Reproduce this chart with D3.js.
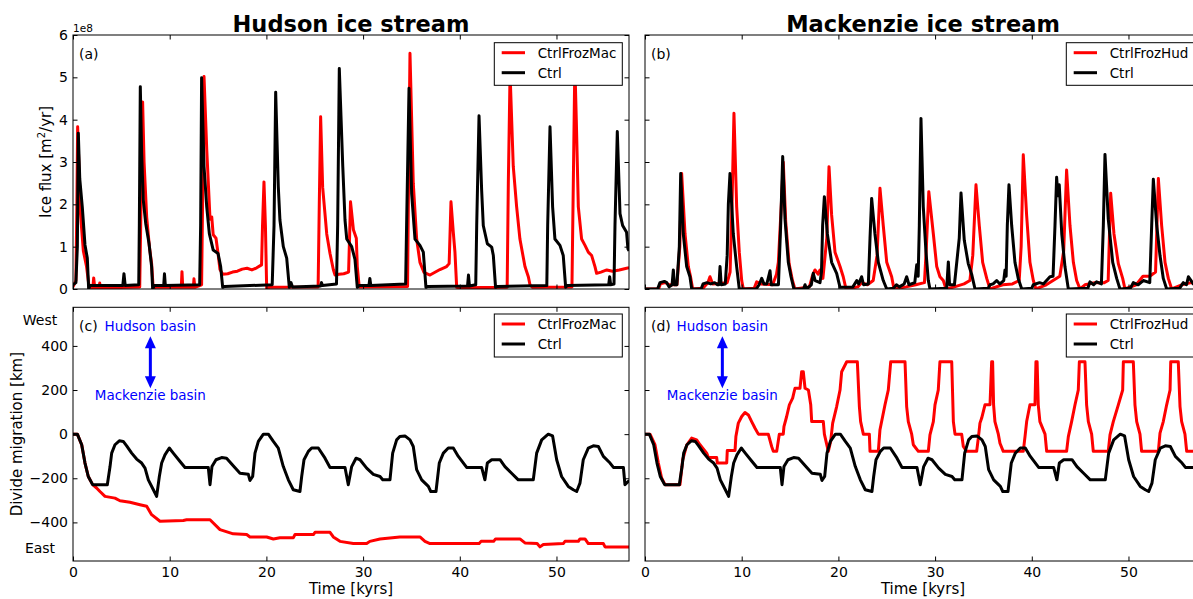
<!DOCTYPE html>
<html>
<head>
<meta charset="utf-8">
<script src="https://cdn.jsdelivr.net/npm/d3@7"></script>
<style>
  body { margin: 0; background: #fff; }
  svg { display: block; }
  text { font-family: "DejaVu Sans", sans-serif; }
</style>
</head>
<body>
<svg id="fig" width="1193" height="599"></svg>
<script>
// ---- tick values ----
const timeTicks = [0, 10, 20, 30, 40, 50];
const fluxTicks = [0, 1, 2, 3, 4, 5, 6];          // ×1e8 m²/yr
const divideTicks = [-400, -200, 0, 200, 400];    // km

// ---- ice flux of the Hudson ice stream, [time kyr, flux ×1e8 m²/yr] ----
const hudsonFluxCtrl = [
  [0,0.1],[0.3,0.15],[0.45,1.0],[0.55,3.68],[0.7,2.6],[0.96,1.94],[1.24,1.04],[1.48,0.73],[1.62,0.0],[1.75,0.08],
  [5.15,0.08],[5.27,0.36],[5.4,0.08],[6.8,0.1],[6.86,1.5],[6.96,4.78],[7.1,3.2],[7.27,2.1],[7.52,1.55],[7.86,1.08],
  [8.13,0.53],[8.24,0.0],[8.4,0.08],[9.38,0.08],[9.46,0.36],[9.55,0.08],[13.1,0.1],[13.2,1.5],[13.3,4.99],[13.55,2.89],
  [13.83,1.94],[14.1,1.31],[14.5,0.92],[15.0,0.84],[15.27,0.53],[15.48,0.04],[15.7,0.06],[20.6,0.1],[20.79,1.5],[20.96,4.65],
  [21.23,2.42],[21.4,1.63],[21.75,1.0],[22.1,0.73],[22.37,0.04],[22.55,0.15],[22.7,0.05],[25.6,0.07],[25.7,0.15],[25.8,0.08],
  [27.25,0.12],[27.37,1.5],[27.54,5.21],[27.9,2.89],[28.13,1.63],[28.31,1.18],[28.82,1.0],[29.16,0.7],[29.4,0.04],[29.6,0.08],
  [30.6,0.08],[30.7,0.25],[30.8,0.08],[34.4,0.12],[34.5,1.5],[34.75,4.74],[35.02,2.26],[35.37,1.18],[35.88,1.03],[36.23,0.87],
  [36.5,0.04],[36.7,0.06],[40.8,0.07],[40.9,0.33],[41.0,0.07],[41.65,0.1],[41.75,1.5],[41.99,4.09],[42.26,2.34],[42.43,1.5],
  [42.85,1.07],[43.3,0.99],[43.47,0.79],[43.7,0.04],[43.9,0.06],[49.0,0.08],[49.09,1.5],[49.33,3.83],[49.6,1.94],[49.84,1.18],
  [50.36,1.03],[50.7,0.79],[50.95,0.04],[51.1,0.08],[55.4,0.1],[55.5,0.29],[55.6,0.1],[55.95,0.12],[56.05,1.5],[56.29,3.72],
  [56.57,1.78],[56.84,1.5],[57.25,1.34],[57.39,0.95],[57.5,0.9]
];
const hudsonFluxFrozMac = [
  [0,0.05],[0.3,0.2],[0.4,2.0],[0.48,3.83],[0.6,3.0],[0.72,1.94],[1.07,0.9],[1.4,0.53],[1.69,0.0],[2.05,0.02],
  [2.14,0.26],[2.25,0.02],[2.7,0.02],[2.76,0.14],[2.85,0.02],[6.9,0.05],[7.0,1.5],[7.2,4.42],[7.35,3.0],[7.62,1.7],
  [7.9,1.0],[8.13,0.6],[8.3,0.0],[8.5,0.04],[11.2,0.04],[11.27,0.41],[11.35,0.04],[12.45,0.04],[12.51,0.24],[12.6,0.04],
  [13.3,0.1],[13.4,2.0],[13.55,5.02],[13.83,3.3],[14.17,1.65],[14.35,1.7],[14.5,1.28],[14.79,1.2],[15.0,0.84],[15.2,0.46],
  [15.48,0.35],[16.0,0.36],[16.5,0.4],[17.0,0.42],[17.5,0.47],[18.0,0.49],[18.5,0.45],[19.0,0.5],[19.5,0.57],[19.6,1.5],
  [19.75,2.53],[19.9,1.5],[20.03,0.0],[20.3,0.04],[25.35,0.05],[25.47,2.0],[25.61,4.07],[25.82,2.4],[26.24,1.3],[26.58,0.84],
  [26.92,0.46],[27.1,0.33],[27.5,0.35],[28.0,0.36],[28.5,0.4],[28.6,1.2],[28.7,2.06],[29.0,1.4],[29.3,1.2],[29.4,0.53],
  [29.6,0.05],[34.6,0.06],[34.7,2.5],[34.85,5.57],[35.19,2.5],[35.54,1.18],[35.88,0.63],[36.3,0.39],[36.92,0.33],[37.95,0.46],
  [38.64,0.53],[38.9,0.6],[39.09,2.06],[39.33,1.34],[39.5,0.87],[39.68,0.04],[40.0,0.03],[44.9,0.04],[45.02,2.5],[45.2,5.1],
  [45.53,2.9],[45.88,1.94],[46.22,1.18],[46.74,0.53],[47.09,0.29],[47.26,0.1],[47.5,0.04],[51.6,0.05],[51.74,2.5],[51.9,5.3],
  [52.05,4.0],[52.26,1.94],[52.6,1.18],[52.95,1.03],[53.29,0.87],[53.64,0.79],[53.98,0.53],[54.15,0.37],[54.6,0.4],[55.2,0.45],
  [55.8,0.42],[56.5,0.45],[57.25,0.49],[57.5,0.5]
];

// ---- ice flux of the Mackenzie ice stream, [time kyr, flux ×1e8 m²/yr] ----
const mackFluxCtrl = [
  [0,0],[1.3,0.0],[1.55,0.15],[2.0,0.18],[2.25,0.15],[2.5,0.05],[2.8,0.1],[2.93,0.45],[3.05,0.1],[3.3,0.1],
  [3.55,1.0],[3.69,2.73],[3.96,1.3],[4.31,0.53],[4.65,0.29],[4.83,0.0],[5.8,0.0],[6.0,0.12],[6.4,0.15],[6.8,0.12],
  [7.2,0.15],[7.5,0.1],[7.65,0.1],[7.76,0.53],[7.88,0.1],[8.3,0.12],[8.5,0.8],[8.62,2.0],[8.79,2.73],[9.13,1.3],
  [9.48,0.53],[9.75,0.0],[11.5,0.0],[11.8,0.1],[12.07,0.25],[12.3,0.12],[12.6,0.12],[12.93,0.43],[13.05,0.1],[13.8,0.1],
  [14.03,1.5],[14.24,3.13],[14.48,1.65],[14.82,0.63],[15.1,0.29],[15.4,0.0],[16.4,0.0],[16.55,0.1],[16.7,0.0],[17.2,0.1],
  [17.4,0.37],[17.6,0.2],[18.1,0.15],[18.25,0.4],[18.37,1.5],[18.55,2.18],[18.86,1.3],[19.3,0.63],[19.82,0.37],[20.17,0.04],
  [21.5,0.05],[21.9,0.2],[22.1,0.12],[22.4,0.29],[22.6,0.1],[23.1,0.12],[23.27,1.2],[23.44,2.14],[23.78,1.3],[24.13,0.63],
  [24.64,0.2],[25.0,0.0],[25.7,0.02],[26.0,0.1],[26.3,0.05],[26.8,0.12],[27.06,0.29],[27.3,0.1],[27.9,0.15],[28.1,0.57],
  [28.25,0.3],[28.37,1.5],[28.54,4.03],[28.78,1.94],[29.06,0.87],[29.3,0.2],[29.47,0.0],[31.2,0.02],[31.37,0.64],[31.5,0.1],
  [32.0,0.1],[32.5,1.2],[32.68,2.27],[33.02,1.15],[33.43,0.6],[33.78,0.35],[34.13,0.0],[35.5,0.02],[35.68,0.1],[36.0,0.12],
  [36.37,0.2],[36.7,0.12],[37.1,0.2],[37.23,0.45],[37.35,0.3],[37.47,1.5],[37.64,2.46],[37.92,1.5],[38.26,0.63],[38.6,0.25],
  [38.96,0.0],[40.0,0.02],[40.16,0.1],[40.8,0.15],[41.2,0.12],[41.88,0.29],[42.2,0.3],[42.4,1.5],[42.57,2.64],[42.7,2.2],
  [42.84,2.46],[43.1,1.3],[43.43,0.53],[43.78,0.0],[45.8,0.02],[46.02,0.17],[46.4,0.1],[46.7,0.17],[47.2,0.12],[47.4,1.5],
  [47.57,3.18],[47.91,1.65],[48.37,0.63],[48.78,0.25],[49.12,0.0],[50.2,0.02],[50.5,0.15],[51.0,0.1],[51.53,0.2],[52.2,0.15],
  [52.4,1.5],[52.57,2.59],[52.92,1.5],[53.26,0.79],[53.6,0.25],[53.95,0.0],[55.3,0.02],[55.67,0.15],[56.0,0.1],[56.2,0.29],
  [56.7,0.12],[57.5,0.15]
];
const mackFluxFrozHud = [
  [0,0],[1.4,0.0],[1.6,0.12],[2.1,0.15],[2.5,0.1],[3.3,0.1],[3.6,1.0],[3.79,2.73],[4.14,1.3],[4.48,0.53],
  [4.7,0.3],[4.93,0.0],[6.0,0.02],[6.5,0.15],[6.72,0.29],[7.0,0.12],[8.5,0.15],[8.8,0.4],[9.0,2.0],[9.2,4.15],
  [9.48,1.94],[9.75,0.87],[10.0,0.2],[10.17,0.0],[11.3,0.02],[11.55,0.17],[12.0,0.12],[13.2,0.1],[13.6,0.35],[13.79,0.63],
  [14.1,2.0],[14.3,3.0],[14.55,1.6],[14.9,0.6],[15.25,0.2],[15.5,0.0],[17.0,0.05],[17.3,0.3],[17.58,0.45],[17.9,0.35],
  [18.1,0.45],[18.4,0.25],[18.8,1.2],[19.03,2.89],[19.3,1.75],[19.65,0.87],[20.17,0.53],[20.5,0.29],[20.79,0.0],[22.0,0.05],
  [22.4,0.15],[23.0,0.1],[23.6,0.2],[24.0,0.8],[24.3,2.38],[24.64,1.5],[25.0,0.63],[25.51,0.29],[25.75,0.0],[27.0,0.05],
  [28.0,0.1],[28.9,0.15],[29.1,1.0],[29.35,2.3],[29.82,1.3],[30.17,0.53],[30.5,0.29],[30.85,0.2],[31.13,0.0],[32.0,0.05],
  [33.0,0.12],[33.6,0.2],[33.9,0.8],[34.23,2.46],[34.57,1.5],[34.92,0.63],[35.34,0.25],[35.68,0.0],[37.0,0.1],[38.0,0.12],
  [38.7,0.2],[38.9,1.0],[39.12,3.17],[39.47,1.73],[39.81,0.63],[40.16,0.2],[40.43,0.0],[41.5,0.1],[42.9,0.3],[43.3,0.9],
  [43.6,2.81],[43.95,1.5],[44.3,0.63],[44.64,0.2],[44.99,0.0],[45.5,0.1],[46.5,0.15],[47.5,0.15],[47.9,0.2],[48.16,2.26],
  [48.5,1.3],[48.95,0.6],[49.4,0.25],[49.64,0.0],[50.8,0.1],[51.5,0.3],[52.2,0.3],[52.8,0.4],[53.09,2.61],[53.43,1.5],
  [53.78,0.63],[54.12,0.25],[54.47,0.0],[55.5,0.1],[56.5,0.15],[57.5,0.12]
];

// ---- ice divide position, [time kyr, km] (positive = west) ----
const divideCtrl = [
  [0,0],[0.45,0],[0.9,-48],[1.24,-131],[1.58,-192],[2.03,-229],[3.55,-229],[3.83,-147],[4.0,-86],[4.34,-48],
  [4.79,-30],[5.2,-33],[5.55,-53],[6.07,-86],[6.58,-113],[7.1,-131],[7.45,-154],[7.79,-207],[8.31,-252],[8.65,-282],
  [8.93,-192],[9.17,-131],[9.51,-94],[9.96,-63],[10.37,-86],[11.07,-124],[11.58,-151],[13.99,-151],[14.17,-229],[14.37,-147],
  [14.79,-116],[15.37,-106],[15.88,-109],[16.57,-143],[17.27,-177],[18.13,-182],[18.3,-210],[18.58,-192],[18.82,-86],[19.17,-33],
  [19.69,0],[20.2,0],[20.72,-33],[21.23,-63],[21.75,-147],[22.27,-207],[22.78,-252],[23.47,-260],[23.65,-192],[23.89,-116],
  [24.34,-78],[24.68,-63],[25.37,-63],[26.06,-109],[26.58,-151],[28.13,-151],[28.47,-229],[28.82,-147],[29.27,-109],[29.68,-116],
  [30.37,-154],[31.06,-182],[31.75,-192],[32.03,-207],[32.78,-207],[33.06,-86],[33.47,-26],[33.8,-11],[34.33,-8],[34.85,-26],
  [35.19,-56],[35.54,-161],[36.06,-207],[36.75,-237],[37.0,-260],[37.54,-260],[37.88,-131],[38.3,-86],[38.81,-63],[39.33,-63],
  [39.85,-101],[40.71,-151],[42.26,-151],[42.6,-207],[42.85,-131],[43.3,-116],[44.16,-116],[44.67,-147],[45.36,-177],[46.05,-207],
  [47.6,-207],[47.95,-86],[48.47,-26],[49.15,0],[49.6,-8],[50.02,-116],[50.53,-192],[51.22,-237],[51.74,-252],[52.09,-260],
  [52.43,-222],[52.77,-116],[53.29,-63],[53.81,-53],[54.33,-56],[54.85,-101],[55.54,-131],[55.89,-151],[56.92,-151],[57.08,-229],
  [57.43,-214],[57.5,-214]
];
const divideFrozMac = [
  [0,0],[0.45,0],[0.9,-48],[1.24,-131],[1.58,-192],[2.03,-229],[2.44,-244],[2.79,-260],[3.31,-282],[4.34,-290],
  [4.86,-302],[5.89,-309],[6.93,-320],[7.62,-327],[8.13,-365],[9.0,-395],[11.41,-391],[11.75,-388],[14.17,-388],[15.2,-433],
  [16.57,-452],[17.96,-455],[18.3,-466],[20.03,-466],[20.72,-475],[21.4,-470],[22.78,-470],[22.96,-455],[24.86,-455],[25.03,-445],
  [26.58,-445],[26.92,-466],[27.61,-486],[28.99,-496],[30.37,-496],[30.7,-486],[31.75,-475],[33.8,-466],[35.88,-466],[36.4,-486],
  [36.92,-496],[42.0,-496],[42.2,-486],[43.5,-486],[43.7,-475],[46.22,-475],[46.74,-493],[48.0,-496],[48.29,-511],[48.64,-500],
  [50.7,-496],[50.88,-486],[52.26,-486],[52.43,-475],[52.95,-475],[53.29,-496],[54.85,-496],[55.02,-511],[57.5,-511]
];
const divideFrozHud = [
  [0,0],[0.52,0],[1.03,-48],[1.38,-131],[1.72,-199],[2.07,-229],[3.62,-229],[3.9,-116],[4.31,-50],[4.83,-18],
  [5.34,-26],[5.69,-48],[6.38,-86],[6.55,-106],[7.41,-106],[7.48,-131],[8.45,-131],[8.51,-74],[9.31,-74],[9.4,-11],
  [9.65,50],[10.0,80],[10.34,98],[10.69,87],[11.03,57],[11.38,27],[11.72,0],[12.75,0],[13.1,-56],[13.27,-78],
  [13.62,-78],[13.89,0],[14.3,0],[14.37,34],[14.65,80],[14.93,133],[15.27,163],[15.51,208],[16.03,208],[16.2,283],
  [16.37,283],[16.55,208],[16.9,200],[17.14,133],[17.24,57],[18.44,57],[18.55,0],[18.96,-78],[19.2,-33],[19.41,50],
  [19.82,125],[20.17,200],[20.34,283],[20.86,328],[21.96,328],[22.17,125],[22.3,57],[22.58,0],[23.2,0],[23.27,-78],
  [24.13,-78],[24.3,20],[24.82,133],[25.16,200],[25.41,328],[26.89,328],[27.06,125],[27.23,57],[27.58,0],[27.75,-48],
  [28.27,-78],[29.3,-78],[29.47,-3],[29.82,57],[29.99,133],[30.33,200],[30.5,328],[31.72,328],[31.89,57],[32.06,0],
  [32.75,0],[32.92,-56],[33.26,-78],[34.3,-78],[34.47,-18],[34.64,50],[34.82,73],[35.16,133],[35.68,133],[35.85,328],
  [35.95,328],[36.05,133],[36.19,57],[36.54,0],[36.71,-41],[37.05,-78],[39.12,-78],[39.3,-11],[39.47,57],[39.81,133],
  [40.33,133],[40.43,328],[40.55,328],[40.67,133],[40.84,57],[41.37,0],[41.54,-78],[43.6,-78],[43.78,-11],[44.12,57],
  [44.47,133],[44.81,200],[44.92,328],[45.5,328],[45.67,133],[45.85,57],[46.19,0],[46.36,-78],[47.91,-78],[48.09,-3],
  [48.43,57],[48.95,133],[49.4,200],[49.47,328],[50.5,328],[50.67,133],[50.85,57],[51.19,0],[51.36,-78],[53.09,-78],
  [53.26,5],[53.6,57],[53.95,133],[54.3,200],[54.37,328],[55.15,328],[55.33,125],[55.5,57],[55.84,0],[56.02,-78],
  [57.5,-78]
];

// basin arrow: time and divide span in km
const arrowTime = 8;
const arrowSpan = [208, 444];

// ---- layout ----
const timeDomain = [0, 57.5];
const fluxDomain = [0, 6];
const divideDomain = [-575, 575];
const cols = [{ x0: 73, x1: 629 }, { x0: 645, x1: 1201 }];
const rows = [{ y0: 35, y1: 289 }, { y0: 307.3, y1: 561 }];
const RED = "#ff0000", BLACK = "#000000", BLUE = "#0000ff";

const svg = d3.select("#fig");
const defs = svg.append("defs");

const panels = [
  { key: "a", col: 0, row: 0, yDomain: fluxDomain, yTicks: fluxTicks, yLabels: true, xLabels: false,
    series: [{ name: "CtrlFrozMac", data: hudsonFluxFrozMac, color: RED }, { name: "Ctrl", data: hudsonFluxCtrl, color: BLACK }] },
  { key: "b", col: 1, row: 0, yDomain: fluxDomain, yTicks: fluxTicks, yLabels: false, xLabels: false,
    series: [{ name: "CtrlFrozHud", data: mackFluxFrozHud, color: RED }, { name: "Ctrl", data: mackFluxCtrl, color: BLACK }] },
  { key: "c", col: 0, row: 1, yDomain: divideDomain, yTicks: divideTicks, yLabels: true, xLabels: true, basins: true,
    series: [{ name: "CtrlFrozMac", data: divideFrozMac, color: RED }, { name: "Ctrl", data: divideCtrl, color: BLACK }] },
  { key: "d", col: 1, row: 1, yDomain: divideDomain, yTicks: divideTicks, yLabels: false, xLabels: true, basins: true,
    series: [{ name: "CtrlFrozHud", data: divideFrozHud, color: RED }, { name: "Ctrl", data: divideCtrl, color: BLACK }] }
];

function styleAxis(g, size) {
  g.select(".domain").remove();
  g.selectAll(".tick line").attr("stroke", "#000").attr("stroke-width", 1);
  g.selectAll(".tick text").attr("fill", "#000").style("font-size", size + "px")
    .style("font-family", "'DejaVu Sans', sans-serif");
}

panels.forEach((p, i) => {
  const c = cols[p.col], r = rows[p.row];
  const x = d3.scaleLinear().domain(timeDomain).range([c.x0, c.x1]);
  const y = d3.scaleLinear().domain(p.yDomain).range([r.y1, r.y0]);
  const g = svg.append("g").attr("class", "panel-" + p.key);

  const clipId = "clip-" + p.key;
  defs.append("clipPath").attr("id", clipId).append("rect")
    .attr("x", c.x0).attr("y", r.y0).attr("width", c.x1 - c.x0).attr("height", r.y1 - r.y0);

  // data lines
  const line = d3.line().x(d => x(d[0])).y(d => y(d[1]));
  const plot = g.append("g").attr("clip-path", `url(#${clipId})`);
  p.series.forEach(s => {
    plot.append("path").datum(s.data).attr("d", line)
      .attr("fill", "none").attr("stroke", s.color).attr("stroke-width", 3)
      .attr("stroke-linejoin", "round").attr("stroke-linecap", "butt");
  });

  // basin annotation
  if (p.basins) {
    const ax = x(arrowTime);
    const yTop = y(arrowSpan[1]), yBot = y(arrowSpan[0]);
    const hh = 12, hw = 5.5;
    plot.append("line").attr("x1", ax).attr("x2", ax).attr("y1", yTop + hh - 1).attr("y2", yBot - hh + 1)
      .attr("stroke", BLUE).attr("stroke-width", 3);
    plot.append("path").attr("fill", BLUE)
      .attr("d", `M${ax},${yTop}L${ax + hw},${yTop + hh}L${ax - hw},${yTop + hh}Z`);
    plot.append("path").attr("fill", BLUE)
      .attr("d", `M${ax},${yBot}L${ax + hw},${yBot - hh}L${ax - hw},${yBot - hh}Z`);
    g.append("text").attr("x", ax).attr("y", r.y0 + 23.7).attr("text-anchor", "middle")
      .attr("fill", BLUE).style("font-size", "13.5px").text("Hudson basin");
    g.append("text").attr("x", ax).attr("y", r.y0 + 92.7).attr("text-anchor", "middle")
      .attr("fill", BLUE).style("font-size", "13.5px").text("Mackenzie basin");
  }

  // axes: inward ticks on all four sides
  const tick = 4.5;
  const bottom = g.append("g").attr("transform", `translate(0,${r.y1})`)
    .call(d3.axisBottom(x).tickValues(timeTicks).tickSizeInner(-tick).tickSizeOuter(0).tickPadding(5.8)
      .tickFormat(p.xLabels ? d3.format("d") : ""));
  styleAxis(bottom, 14);
  const top = g.append("g").attr("transform", `translate(0,${r.y0})`)
    .call(d3.axisTop(x).tickValues(timeTicks).tickSizeInner(-tick).tickSizeOuter(0).tickFormat(""));
  styleAxis(top, 14);
  const left = g.append("g").attr("transform", `translate(${c.x0},0)`)
    .call(d3.axisLeft(y).tickValues(p.yTicks).tickSizeInner(-tick).tickSizeOuter(0).tickPadding(5)
      .tickFormat(p.yLabels ? d3.format("d") : ""));
  styleAxis(left, 14);
  const right = g.append("g").attr("transform", `translate(${c.x1},0)`)
    .call(d3.axisRight(y).tickValues(p.yTicks).tickSizeInner(-tick).tickSizeOuter(0).tickFormat(""));
  styleAxis(right, 14);

  // frame
  g.append("rect").attr("x", c.x0).attr("y", r.y0).attr("width", c.x1 - c.x0).attr("height", r.y1 - r.y0)
    .attr("fill", "none").attr("stroke", "#000").attr("stroke-width", 1);

  // panel letter
  g.append("text").attr("x", c.x0 + 6).attr("y", r.y0 + 23.5).style("font-size", "14px").text(`(${p.key})`);

  // legend
  const lw = 128, lh = p.row === 0 ? 42.6 : 43;
  const lx = c.x1 - 6.7 - lw, ly = r.y0 + (p.row === 0 ? 7.7 : 6.7);
  const leg = g.append("g");
  leg.append("rect").attr("x", lx).attr("y", ly).attr("width", lw).attr("height", lh)
    .attr("fill", "#fff").attr("stroke", "#000").attr("stroke-width", 1);
  p.series.forEach((s, k) => {
    const yy = ly + 10 + 20 * k;
    leg.append("line").attr("x1", lx + 7.4).attr("x2", lx + 30.7).attr("y1", yy).attr("y2", yy)
      .attr("stroke", s.color).attr("stroke-width", 3);
    leg.append("text").attr("x", lx + 43.4).attr("y", yy + 5).style("font-size", "13.5px").text(s.name);
  });
});

// column titles
const titles = ["Hudson ice stream", "Mackenzie ice stream"];
titles.forEach((t, i) => {
  svg.append("text").attr("x", (cols[i].x0 + cols[i].x1) / 2).attr("y", 31.5).attr("text-anchor", "middle")
    .style("font-size", "22.5px").style("font-weight", "bold").text(t);
});

// axis labels
const fluxLabel = svg.append("text").attr("transform", `translate(51,${(rows[0].y0 + rows[0].y1) / 2}) rotate(-90)`)
  .attr("text-anchor", "middle").style("font-size", "15px");
fluxLabel.append("tspan").text("Ice flux [m");
fluxLabel.append("tspan").attr("dy", -6).style("font-size", "10px").text("2");
fluxLabel.append("tspan").attr("dy", 6).text("/yr]");

svg.append("text").attr("transform", `translate(22,${(rows[1].y0 + rows[1].y1) / 2}) rotate(-90)`)
  .attr("text-anchor", "middle").style("font-size", "15px").text("Divide migration [km]");

cols.forEach(c => {
  svg.append("text").attr("x", (c.x0 + c.x1) / 2).attr("y", 594).attr("text-anchor", "middle")
    .style("font-size", "15px").text("Time [kyrs]");
});

// offset text for the flux axis
svg.append("text").attr("x", cols[0].x0).attr("y", 32.3).style("font-size", "10.5px").text("1e8");

// West / East labels on the divide axis
svg.append("text").attr("x", 40).attr("y", 325).attr("text-anchor", "middle").style("font-size", "14px").text("West");
svg.append("text").attr("x", 40).attr("y", 553.3).attr("text-anchor", "middle").style("font-size", "14px").text("East");
</script>
</body>
</html>
